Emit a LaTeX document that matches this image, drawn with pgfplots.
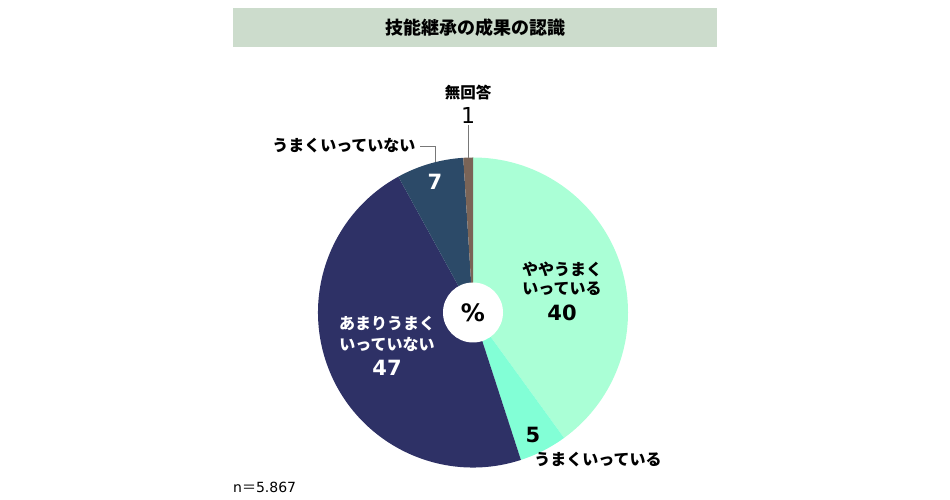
\documentclass[border=0pt]{standalone}
\usepackage{pgfplots}
\pgfplotsset{compat=1.18}
\usepackage{pgfplotstable}
\usepackage{fontspec}
\setmainfont{DejaVu Sans}
\newfontfamily\jp{Noto Sans CJK JP}
\definecolor{sliceA}{RGB}{170,255,214}
\definecolor{sliceB}{RGB}{130,255,214}
\definecolor{sliceC}{RGB}{46,49,102}
\definecolor{sliceD}{RGB}{44,74,104}
\definecolor{sliceE}{RGB}{122,100,87}
\definecolor{titlebg}{RGB}{204,220,204}
\definecolor{leader}{RGB}{120,120,120}

\pgfplotstableread{
value
40
5
47
7
1
}\piedata

\def\cum{0}
\foreach \i in {0,...,4}{%
  \pgfplotstablegetelem{\i}{value}\of\piedata
  \pgfmathsetmacro\a{90-3.6*\cum}%
  \pgfmathsetmacro\b{90-3.6*(\cum+\pgfplotsretval)}%
  \expandafter\xdef\csname sa\i\endcsname{\a}%
  \expandafter\xdef\csname sb\i\endcsname{\b}%
  \pgfmathsetmacro\newcum{\cum+\pgfplotsretval}%
  \xdef\cum{\newcum}%
}

\newcommand\fs[1]{\fontsize{#1bp}{#1bp}\selectfont}

\begin{document}
\begin{tikzpicture}
\begin{axis}[x=1bp, y=1bp, xmin=0, xmax=950, ymin=0, ymax=500,
  hide axis, clip=false, scale only axis]
  \path (axis cs:0,0) rectangle (axis cs:950,500);
  % title
  \fill[titlebg] (axis cs:233,453) rectangle (axis cs:717,492);
  \node[font={\jp\bfseries\fs{18}}] at (axis cs:475,472) {技能継承の成果の認識};
  % pie slices
  \pgfplotsinvokeforeach{0,...,4}{%
    \fill[slice\ifcase#1 A\or B\or C\or D\or E\fi]
      (axis cs:473,187.5) -- ++(\csname sa#1\endcsname:155bp)
      arc[start angle=\csname sa#1\endcsname, end angle=\csname sb#1\endcsname, radius=155bp] -- cycle;
  }
  \fill[white] (axis cs:473,187.5) circle[radius=30bp];
  \node[font={\bfseries\fs{24}}] at (axis cs:473,187.5) {\%};
  % labels
  \node[font={\jp\bfseries\fs{16}}] at (axis cs:562,231) {ややうまく};
  \node[font={\jp\bfseries\fs{16}}] at (axis cs:562,211) {いっている};
  \node[font={\bfseries\fs{21}}] at (axis cs:562,187) {40};
  \node[font={\bfseries\fs{21}}] at (axis cs:533,65) {5};
  \node[font={\jp\bfseries\fs{16}}] at (axis cs:598,40) {うまくいっている};
  \node[font={\jp\bfseries\fs{16}}, text=white] at (axis cs:387,176) {あまりうまく};
  \node[font={\jp\bfseries\fs{16}}, text=white] at (axis cs:387,156) {いっていない};
  \node[font={\bfseries\fs{21}}, text=white] at (axis cs:387,132) {47};
  \node[font={\bfseries\fs{21}}, text=white] at (axis cs:435,318) {7};
  \node[font={\jp\bfseries\fs{16}}, anchor=east] at (axis cs:419,354) {うまくいっていない};
  \draw[leader, line width=0.8bp] (axis cs:420,354) -- (axis cs:435,354) -- (axis cs:435,338);
  \node[font={\jp\bfseries\fs{15.5}}] at (axis cs:468,407) {無回答};
  \node[font={\fs{22}}] at (axis cs:468,385) {1};
  \draw[leader, line width=0.8bp] (axis cs:468,375) -- (axis cs:468,342);
  \node[font={\fs{14}}, anchor=west, inner sep=0pt] at (axis cs:233,13) {n{\jp ＝}5.867};
\end{axis}
\end{tikzpicture}
\end{document}
